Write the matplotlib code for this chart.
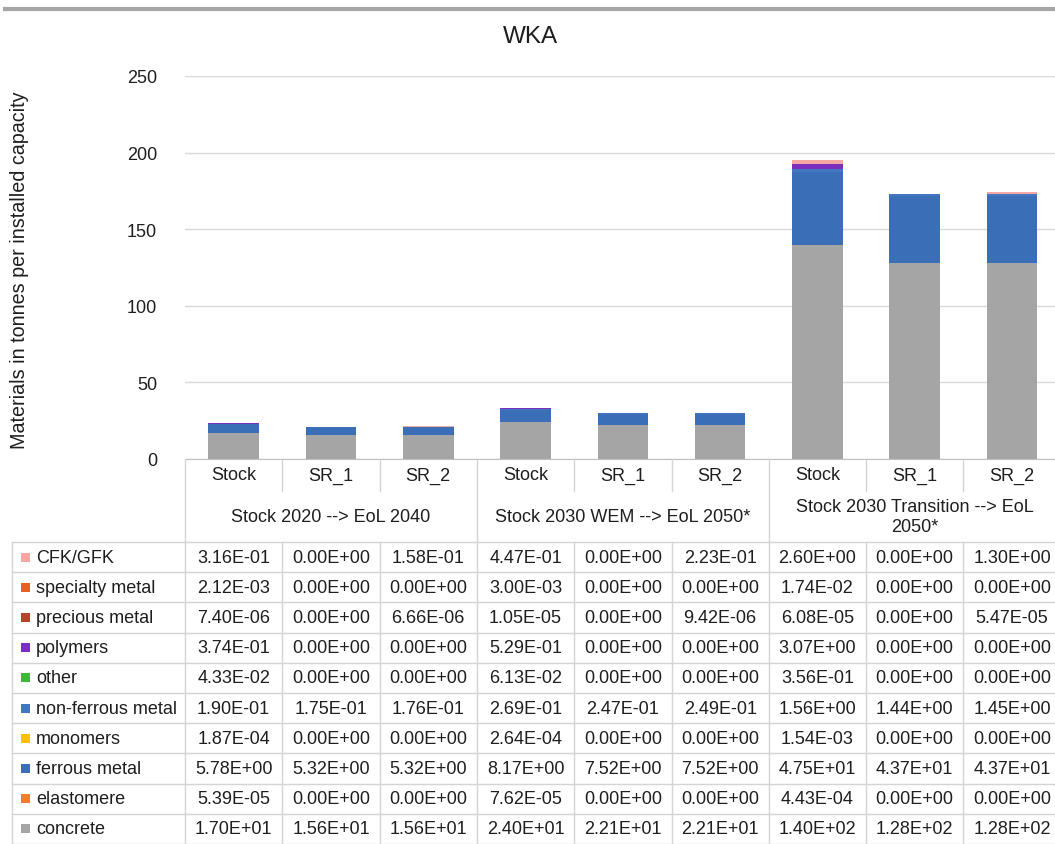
import numpy as np
import matplotlib.pyplot as plt
from matplotlib.patches import Rectangle

plt.rcParams['font.family'] = ['Liberation Sans', 'DejaVu Sans']

# data (table order, top to bottom)
groups = ['Stock 2020 --> EoL 2040', 'Stock 2030 WEM --> EoL 2050*',
          'Stock 2030 Transition --> EoL\n2050*']
scenarios = ['Stock', 'SR_1', 'SR_2']
materials = ['CFK/GFK', 'specialty metal', 'precious metal', 'polymers', 'other',
             'non-ferrous metal', 'monomers', 'ferrous metal', 'elastomere', 'concrete']
cfk = [3.16e-01, 0, 1.58e-01, 4.47e-01, 0, 2.23e-01, 2.60e+00, 0, 1.30e+00]
specialty = [2.12e-03, 0, 0, 3.00e-03, 0, 0, 1.74e-02, 0, 0]
precious = [7.40e-06, 0, 6.66e-06, 1.05e-05, 0, 9.42e-06, 6.08e-05, 0, 5.47e-05]
polymers = [3.74e-01, 0, 0, 5.29e-01, 0, 0, 3.07e+00, 0, 0]
other = [4.33e-02, 0, 0, 6.13e-02, 0, 0, 3.56e-01, 0, 0]
nonferrous = [1.90e-01, 1.75e-01, 1.76e-01, 2.69e-01, 2.47e-01, 2.49e-01, 1.56e+00, 1.44e+00, 1.45e+00]
monomers = [1.87e-04, 0, 0, 2.64e-04, 0, 0, 1.54e-03, 0, 0]
ferrous = [5.78e+00, 5.32e+00, 5.32e+00, 8.17e+00, 7.52e+00, 7.52e+00, 4.75e+01, 4.37e+01, 4.37e+01]
elastomere = [5.39e-05, 0, 0, 7.62e-05, 0, 0, 4.43e-04, 0, 0]
concrete = [1.70e+01, 1.56e+01, 1.56e+01, 2.40e+01, 2.21e+01, 2.21e+01, 1.40e+02, 1.28e+02, 1.28e+02]
values = [cfk, specialty, precious, polymers, other, nonferrous, monomers, ferrous, elastomere, concrete]
colors = ['#F4A7A3', '#E8601C', '#B5452A', '#7B2FBE', '#3DB83D',
          '#4276C0', '#FFC000', '#3A6FB7', '#F47B30', '#A5A5A5']

W, H = 1055, 845
fig = plt.figure(figsize=(W / 100, H / 100), dpi=100)
txt = '#1E1E1E'
fs = 13

# chart area
x0, cw, ncol = 185, 97.3, 9
y_zero, y_top = 460, 77
ax = fig.add_axes([x0 / W, (H - y_zero) / H, ncol * cw / W, (y_zero - y_top) / H])
xpos = np.arange(ncol)
bottom = np.zeros(ncol)
for vals, c in zip(values[::-1], colors[::-1]):
    ax.bar(xpos, vals, 0.52, bottom=bottom, color=c, linewidth=0, zorder=2)
    bottom += np.array(vals)
ax.set_xlim(-0.5, ncol - 0.5)
ax.set_ylim(0, 250)
ax.set_yticks(range(0, 251, 50))
ax.set_xticks([])
ax.yaxis.grid(True, color='#D9D9D9', lw=1)
ax.set_axisbelow(True)
for s in ['top', 'right', 'left']:
    ax.spines[s].set_visible(False)
ax.spines['bottom'].set_color('#BFBFBF')
ax.tick_params(axis='y', length=0, pad=20, labelsize=fs, labelcolor=txt)

fig.text(530 / W, 1 - 37 / H, 'WKA', ha='center', va='center', fontsize=17.5, color=txt)
fig.text(20 / W, 1 - 270 / H, 'Materials in tonnes per installed capacity',
         rotation=90, ha='center', va='center', fontsize=14.2, color=txt)

# data table
tab = fig.add_axes([0, 0, 1, 1])
tab.set_xlim(0, W)
tab.set_ylim(H, 0)
tab.axis('off')
tab.patch.set_alpha(0)
gc = '#D4D4D4'
xs = x0 + cw * np.arange(ncol + 1)
y_hdr, y_grp, y_dat, rh, x_leg = 492, 543, 543, 30.2, 12

tab.plot([5, W], [10, 10], color='#A6A6A6', lw=3)
for i, xv in enumerate(xs):
    if i % 3 == 0:
        tab.plot([xv, xv], [y_zero, H], color=gc, lw=1)
    else:
        tab.plot([xv, xv], [y_zero, y_hdr], color=gc, lw=1)
        tab.plot([xv, xv], [y_dat, H], color=gc, lw=1)
tab.plot([x_leg, x_leg], [y_dat, H], color=gc, lw=1)
for k in range(len(materials) + 1):
    yv = y_dat + k * rh
    tab.plot([x_leg, W], [yv, yv], color=gc, lw=1)

for i in range(ncol):
    tab.text(xs[i] + cw / 2, (y_zero + y_hdr) / 2, scenarios[i % 3],
             ha='center', va='center', fontsize=fs, color=txt)
for g, name in enumerate(groups):
    tab.text(xs[3 * g] + 1.5 * cw, (y_hdr + y_grp) / 2, name, ha='center',
             va='center', fontsize=fs, color=txt, linespacing=1.3)

for k, (m, c, vals) in enumerate(zip(materials, colors, values)):
    yc = y_dat + (k + 0.5) * rh
    tab.add_patch(Rectangle((21, yc - 4.5), 9, 9, color=c, lw=0))
    tab.text(36, yc, m, ha='left', va='center', fontsize=fs, color=txt)
    for i, v in enumerate(vals):
        tab.text(xs[i] + cw / 2, yc, '%.2E' % v, ha='center', va='center',
                 fontsize=fs, color=txt)

fig.savefig('out.png', dpi=100)
